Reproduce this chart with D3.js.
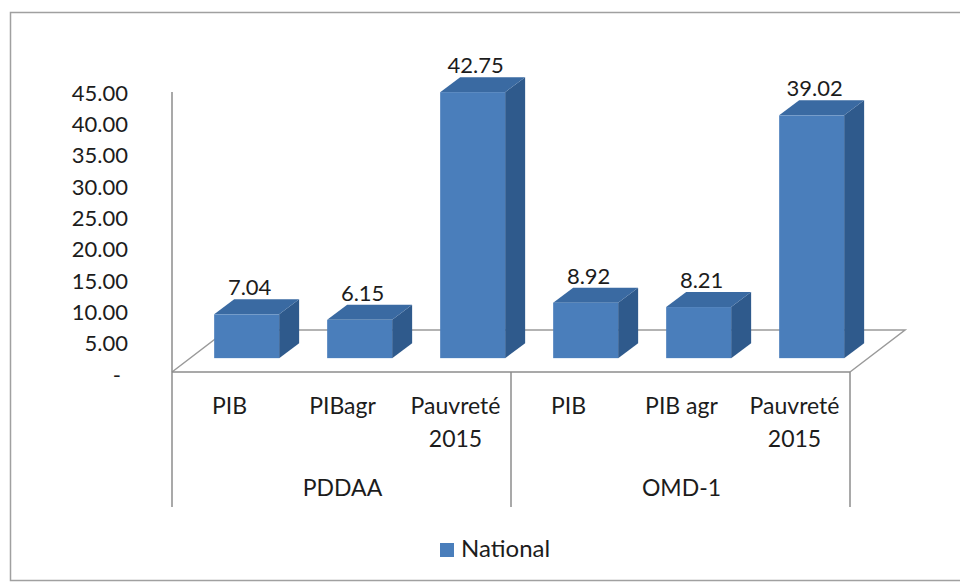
<!DOCTYPE html>
<html>
<head>
<meta charset="utf-8">
<script src="https://cdn.jsdelivr.net/npm/d3@7"></script>
<style>
  body { margin: 0; background: #fff; }
  svg text { font-family: Lato, "Open Sans", sans-serif; fill: #1c1c1c; }
</style>
</head>
<body>
<svg id="chart" width="960" height="583"></svg>
<script>
'use strict';
// data
var categories = ['PIB', 'PIBagr', 'Pauvreté\n2015', 'PIB', 'PIB agr', 'Pauvreté\n2015'];
var groups = ['PDDAA', 'OMD-1'];
var groupSize = [3, 3];
var national = [7.04, 6.15, 42.75, 8.92, 8.21, 39.02];
var yTicks = [0, 5, 10, 15, 20, 25, 30, 35, 40, 45];
var seriesName = 'National';

var svg = d3.select('#chart');

// frame of the chart area
svg.append('rect')
    .attr('x', 10.5).attr('y', 12.5)
    .attr('width', 960).attr('height', 568)
    .attr('fill', 'none').attr('stroke', '#a0a0a0').attr('stroke-width', 1.5);

var left = 172, right = 850, floorY = 372;
var depth = {x: 55, y: -42};       // floor depth
var barDepth = {x: 20, y: -15};    // depth of each column
var barPos = 0.33;                 // where columns sit in the floor depth

var x = d3.scaleBand().domain(d3.range(categories.length))
        .range([left, right]).paddingInner(0.425).paddingOuter(0.2125);
var h = d3.scaleLinear().domain([0, 45]).range([0, 280]);
var yLab = d3.scaleLinear().domain([0, 45]).range([375, 93]);

// floor
var g = svg.append('g');
g.append('path')
    .attr('d', 'M' + left + ',' + floorY + 'L' + (left + depth.x) + ',' + (floorY + depth.y) +
            'L' + (right + depth.x) + ',' + (floorY + depth.y) + 'L' + right + ',' + floorY)
    .attr('fill', 'none').attr('stroke', '#9a9a9a').attr('stroke-width', 1.5);

// value axis labels
var yAxis = d3.axisLeft(yLab).tickValues(yTicks).tickSize(0).tickPadding(0)
        .tickFormat(function (d) { return d === 0 ? '-' : d3.format('.2f')(d); });
var ya = svg.append('g').attr('transform', 'translate(128,0)').call(yAxis);
ya.select('.domain').remove();
ya.selectAll('text').attr('font-size', 22).attr('fill', '#1c1c1c')
    .style('font-family', 'Lato, sans-serif');
ya.selectAll('.tick').filter(function (d) { return d === 0; }).select('text')
    .attr('dx', -7);

// columns
var bx0 = barPos * depth.x, by0 = floorY + barPos * depth.y;
var bars = svg.append('g').selectAll('g.bar').data(national).enter().append('g').attr('class', 'bar');
bars.each(function (v, i) {
    var b = d3.select(this);
    var x0 = x(i) + bx0, w = x.bandwidth(), top = by0 - h(v);
    // side
    b.append('path')
        .attr('d', 'M' + (x0 + w) + ',' + by0 + 'L' + (x0 + w + barDepth.x) + ',' + (by0 + barDepth.y) +
                'L' + (x0 + w + barDepth.x) + ',' + (top + barDepth.y) + 'L' + (x0 + w) + ',' + top + 'Z')
        .attr('fill', '#2f5a8c');
    // top
    b.append('path')
        .attr('d', 'M' + x0 + ',' + top + 'L' + (x0 + barDepth.x) + ',' + (top + barDepth.y) +
                'L' + (x0 + w + barDepth.x) + ',' + (top + barDepth.y) + 'L' + (x0 + w) + ',' + top + 'Z')
        .attr('fill', '#3a6aa2');
    // front
    b.append('rect')
        .attr('x', x0).attr('y', top).attr('width', w).attr('height', h(v))
        .attr('fill', '#4a7ebb');
    b.append('text')
        .attr('x', x0 + w / 2 + 3).attr('y', top + barDepth.y - 4)
        .attr('text-anchor', 'middle').attr('font-size', 22)
        .text(d3.format('.2f')(v));
});

// axis lines
var axisCol = '#8c8c8c';
svg.append('line').attr('x1', left).attr('x2', left).attr('y1', 92).attr('y2', 507)
    .attr('stroke', axisCol).attr('stroke-width', 1.5);
svg.append('line').attr('x1', left).attr('x2', right).attr('y1', floorY).attr('y2', floorY)
    .attr('stroke', axisCol).attr('stroke-width', 1.5);
var cum = 0;
groupSize.forEach(function (n) {
    cum += n;
    var sx = cum < categories.length ? (x(cum - 1) + x.bandwidth() + x(cum)) / 2 : right;
    svg.append('line').attr('x1', sx).attr('x2', sx).attr('y1', floorY).attr('y2', 507)
        .attr('stroke', axisCol).attr('stroke-width', 1.5);
});

// category labels
var cat = svg.append('g').selectAll('text').data(categories).enter().append('text')
    .attr('text-anchor', 'middle').attr('font-size', 23)
    .attr('transform', function (d, i) { return 'translate(' + (x(i) + x.bandwidth() / 2 + 1) + ',414)'; });
cat.selectAll('tspan').data(function (d) { return d.split('\n'); }).enter().append('tspan')
    .attr('x', 0).attr('dy', function (d, i) { return i ? 33 : 0; })
    .text(function (d) { return d; });

// group labels
var start = 0;
groups.forEach(function (name, k) {
    var a = x(start), b = x(start + groupSize[k] - 1) + x.bandwidth();
    svg.append('text').attr('x', (a + b) / 2 + 1).attr('y', 496)
        .attr('text-anchor', 'middle').attr('font-size', 23).text(name);
    start += groupSize[k];
});

// legend
var lg = svg.append('g').attr('transform', 'translate(440,543)');
lg.append('rect').attr('width', 14).attr('height', 14).attr('fill', '#4a7ebb');
lg.append('text').attr('x', 21).attr('y', 14).attr('font-size', 24).text(seriesName);
</script>
</body>
</html>
